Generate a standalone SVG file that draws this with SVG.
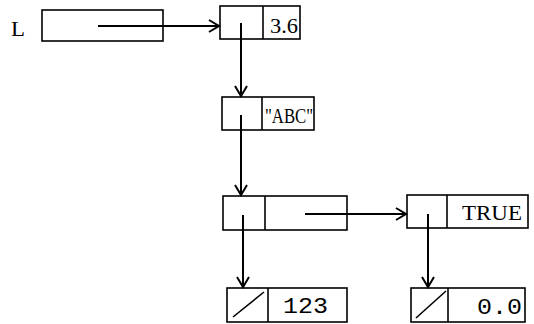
<svg xmlns="http://www.w3.org/2000/svg" width="534" height="324" viewBox="0 0 534 324">
<style>
.box{fill:none;stroke:#000;stroke-width:1.6}
.ln{fill:none;stroke:#000;stroke-width:2}
.t{font-family:"Liberation Mono","DejaVu Sans Mono",monospace;fill:#000}
.s{font-family:"Liberation Serif","DejaVu Serif",serif;fill:#000}
</style>
<defs>
<marker id="ah" markerWidth="14" markerHeight="16" refX="12" refY="8" orient="auto" markerUnits="userSpaceOnUse">
<path d="M2,2 L12,8 L2,14" fill="none" stroke="#000" stroke-width="2"/>
</marker>
</defs>
<rect width="534" height="324" fill="#fff"/>
<g id="L">
<text class="s" x="11" y="36" font-size="20" textLength="14" lengthAdjust="spacingAndGlyphs">L</text>
<rect class="box" x="42" y="10" width="121" height="31"/>
</g>
<g id="n1">
<rect class="box" x="220" y="6" width="80" height="33"/>
<line class="box" x1="263" y1="6" x2="263" y2="39"/>
<text class="s" x="270" y="33" font-size="20" textLength="28" lengthAdjust="spacingAndGlyphs">3.6</text>
</g>
<g id="n2">
<rect class="box" x="222" y="97" width="92" height="33"/>
<line class="box" x1="262" y1="97" x2="262" y2="130"/>
<text class="s" x="265" y="123" font-size="20" textLength="48" lengthAdjust="spacingAndGlyphs">"ABC"</text>
</g>
<g id="n3">
<rect class="box" x="223" y="196" width="124" height="34"/>
<line class="box" x1="265" y1="196" x2="265" y2="230"/>
</g>
<g id="n4">
<rect class="box" x="407" y="195" width="121" height="33"/>
<line class="box" x1="447" y1="195" x2="447" y2="228"/>
<text class="s" x="462" y="220" font-size="20" textLength="60" lengthAdjust="spacingAndGlyphs">TRUE</text>
</g>
<g id="n5">
<rect class="box" x="227" y="288" width="120" height="34"/>
<line class="box" x1="268" y1="288" x2="268" y2="322"/>
<line class="box" x1="233" y1="317" x2="264" y2="292"/>
<text class="t" x="283" y="313" font-size="22" textLength="45" lengthAdjust="spacingAndGlyphs">123</text>
</g>
<g id="n6">
<rect class="box" x="411" y="288" width="114" height="34"/>
<line class="box" x1="448" y1="288" x2="448" y2="322"/>
<line class="box" x1="416" y1="318" x2="446" y2="291"/>
<text class="t" x="477" y="314" font-size="22" textLength="45" lengthAdjust="spacingAndGlyphs">0.0</text>
</g>
<g id="connectors">
<line class="ln" x1="98" y1="26" x2="219" y2="26" marker-end="url(#ah)"/>
<line class="ln" x1="241" y1="23" x2="241" y2="96" marker-end="url(#ah)"/>
<line class="ln" x1="241" y1="115" x2="241" y2="195" marker-end="url(#ah)"/>
<line class="ln" x1="305" y1="214" x2="406" y2="214" marker-end="url(#ah)"/>
<line class="ln" x1="243" y1="215" x2="243" y2="287" marker-end="url(#ah)"/>
<line class="ln" x1="428" y1="214" x2="428" y2="287" marker-end="url(#ah)"/>
</g>
</svg>
